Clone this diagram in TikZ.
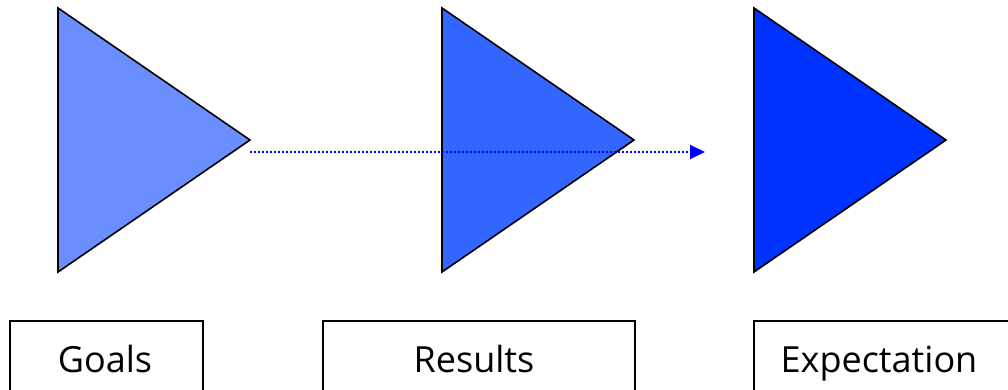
\documentclass[tikz,border=0pt]{standalone}
\usepackage{fontspec}
\setmainfont{Open Sans}
\usetikzlibrary{arrows.meta}
\definecolor{triA}{HTML}{6B8EFF}
\definecolor{triB}{HTML}{3366FF}
\definecolor{triC}{HTML}{0033FF}
\definecolor{lineblue}{HTML}{0000FF}
\begin{document}
\begin{tikzpicture}[x=1pt,y=-1pt,
  tri/.style={draw=black,line width=1.6pt,line join=miter},
  labelbox/.style={draw=black,line width=2pt,inner sep=0pt,anchor=north west},
  labeltext/.style={font=\fontsize{36}{40}\selectfont,anchor=base,inner sep=0pt},
  flow/.style={lineblue,line width=2pt,dash pattern=on 2pt off 2pt,-{Triangle[length=15pt,width=14pt]}}]
\useasboundingbox (0,0) rectangle (1008,390);
\clip (0,0) rectangle (1008,390);
% triangles
\coordinate (a1) at (58,8);  \coordinate (p1) at (250,140); \coordinate (b1) at (58,272);
\coordinate (a2) at (442,8); \coordinate (p2) at (634,140); \coordinate (b2) at (442,272);
\coordinate (a3) at (754,8); \coordinate (p3) at (946,140); \coordinate (b3) at (754,272);
\filldraw[tri,fill=triA] (a1) -- (p1) -- (b1) -- cycle;
\filldraw[tri,fill=triB] (a2) -- (p2) -- (b2) -- cycle;
\filldraw[tri,fill=triC] (a3) -- (p3) -- (b3) -- cycle;
% dotted arrow
\coordinate (s) at (250,152);
\coordinate (e) at (705,152);
\draw[flow] (s) -- (e);
% boxes
\node[labelbox,minimum width=193pt,minimum height=90pt] (goalsbox) at (9,320) {};
\node[labelbox,minimum width=312pt,minimum height=90pt] (resultsbox) at (322,320) {};
\node[labelbox,minimum width=300pt,minimum height=90pt] (expbox) at (753,320) {};
\node[labeltext] (goals) at (105,372) {Goals};
\node[labeltext] (results) at (474,372) {Results};
\node[labeltext] (expectation) at (879,372) {Expectation};
\end{tikzpicture}
\end{document}
